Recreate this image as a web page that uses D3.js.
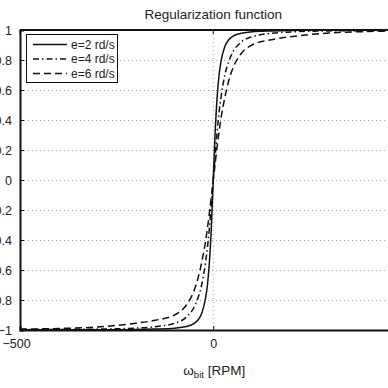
<!DOCTYPE html>
<html><head><meta charset="utf-8">
<script src="https://cdn.jsdelivr.net/npm/d3@7"></script>
<style>
html,body{margin:0;padding:0;background:#fff;}
svg{display:block;}
text{font-family:"Liberation Sans",Arial,sans-serif;fill:#222;}
</style></head>
<body>
<script>
const omega = [-500,-400,-300,-200,-150,-100,-70,-50,-40,-30,-20,-15,-10,-5,0,5,10,15,20,30,40,50,70,100,150,200,300,400,500];
const e2 = [-0.999,-0.999,-0.998,-0.997,-0.994,-0.988,-0.977,-0.957,-0.935,-0.89,-0.79,-0.70,-0.55,-0.32,0,0.32,0.55,0.70,0.79,0.89,0.935,0.957,0.977,0.988,0.994,0.997,0.998,0.999,0.999];
const e4 = [-0.997,-0.996,-0.994,-0.987,-0.978,-0.955,-0.915,-0.85,-0.79,-0.70,-0.55,-0.45,-0.32,-0.16,0,0.16,0.32,0.45,0.55,0.70,0.79,0.85,0.915,0.955,0.978,0.987,0.994,0.996,0.997];
const e6 = [-0.994,-0.99,-0.98,-0.955,-0.935,-0.90,-0.835,-0.74,-0.66,-0.55,-0.41,-0.32,-0.22,-0.11,0,0.11,0.22,0.32,0.41,0.55,0.66,0.74,0.835,0.90,0.935,0.955,0.98,0.99,0.994];
const seriesNames = ["e=2 rd/s","e=4 rd/s","e=6 rd/s"];
const xTicks = [-500,0,500];
const yTicks = [-1,-0.8,-0.6,-0.4,-0.2,0,0.2,0.4,0.6,0.8,1];
const titleText = "Regularization function";

const W = 388, H = 388;
const svg = d3.select("body").append("svg").attr("width",W).attr("height",H);
const x = d3.scaleLinear().domain([-500,500]).range([20,406.5]);
const y = d3.scaleLinear().domain([-1,1]).range([330,30]);

// grid
const grid = svg.append("g").attr("stroke","#a0a0a0").attr("stroke-width",1).attr("stroke-dasharray","1,3");
grid.selectAll("line.h").data(yTicks.filter(d=>d>-1&&d<1)).join("line")
  .attr("x1",x(-500)).attr("x2",x(500)).attr("y1",d=>y(d)+0.5).attr("y2",d=>y(d)+0.5);
grid.append("line").attr("x1",x(0)).attr("x2",x(0)).attr("y1",y(1)).attr("y2",y(-1));

// curves
const styles = [
  {data:e2, dash:null},
  {data:e4, dash:"6,3,1.5,3"},
  {data:e6, dash:"7,4"}
];
const line = d3.line().x((d,i)=>x(omega[i])).y(d=>y(d)).curve(d3.curveMonotoneX);
styles.forEach(s=>{
  svg.append("path").attr("d",line(s.data)).attr("fill","none")
    .attr("stroke","#111").attr("stroke-width",1.5)
    .attr("stroke-dasharray",s.dash);
});

// axes box
const axL = d3.axisLeft(y).tickValues(yTicks).tickSize(-4).tickPadding(8)
  .tickFormat(d=>d===0?"0":(d<0?"\u2212":"")+String(Math.abs(d)));
const gL = svg.append("g").attr("transform",`translate(${x(-500)},0)`).call(axL);
gL.select(".domain").attr("stroke","#111").attr("stroke-width",2);
gL.selectAll(".tick line").attr("stroke","#111");
gL.selectAll("text").attr("font-size",12.5).attr("fill","#222");

const axB = d3.axisBottom(x).tickValues(xTicks).tickSize(-4).tickPadding(9)
  .tickFormat(d=>d<0?"\u2212"+Math.abs(d):String(d));
const gB = svg.append("g").attr("transform",`translate(0,${y(-1)})`).call(axB);
gB.select(".domain").attr("stroke","#111").attr("stroke-width",2);
gB.selectAll(".tick line").attr("stroke","#111");
gB.selectAll("text").attr("font-size",12.5).attr("fill","#222");
gB.selectAll(".tick").filter(d=>d===-500).select("text").attr("dx",-4);

svg.append("line").attr("x1",x(-500)).attr("x2",x(500)).attr("y1",y(1)).attr("y2",y(1))
  .attr("stroke","#111").attr("stroke-width",2);
svg.selectAll("line.tt").data(xTicks).join("line").attr("class","tt")
  .attr("x1",d=>x(d)).attr("x2",d=>x(d)).attr("y1",y(1)).attr("y2",y(1)+4).attr("stroke","#111");

// title
svg.append("text").attr("x",x(0)).attr("y",19).attr("text-anchor","middle")
  .attr("font-size",13.5).text(titleText);

// x label
const xl = svg.append("text").attr("x",x(0)+1).attr("y",375).attr("text-anchor","middle").attr("font-size",13.5);
xl.append("tspan").text("\u03c9");
xl.append("tspan").attr("font-size",9.5).attr("dy",3).text("bit");
xl.append("tspan").attr("dy",-3).text(" [RPM]");

// legend
const lg = svg.append("g");
lg.append("rect").attr("x",26.5).attr("y",34.5).attr("width",91).attr("height",48)
  .attr("fill","#fff").attr("stroke","#111").attr("stroke-width",1);
styles.forEach((s,i)=>{
  const yy = 44.5 + i*14.5;
  lg.append("line").attr("x1",33).attr("x2",67).attr("y1",yy).attr("y2",yy)
    .attr("stroke","#111").attr("stroke-width",1.3).attr("stroke-dasharray",s.dash);
  lg.append("text").attr("x",71).attr("y",yy+4.3).attr("font-size",12).text(seriesNames[i]);
});
</script>
</body></html>
